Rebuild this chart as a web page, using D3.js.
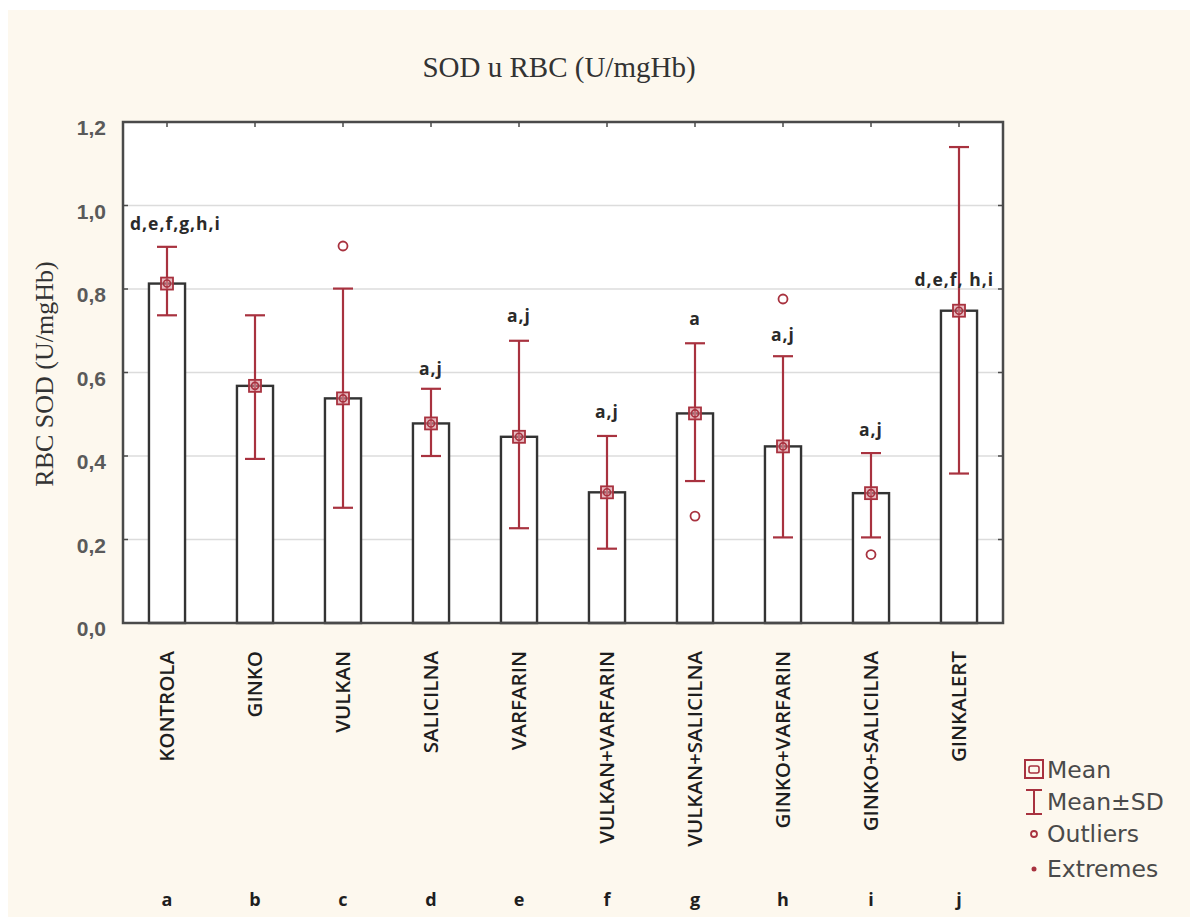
<!DOCTYPE html>
<html>
<head>
<meta charset="utf-8">
<script src="https://cdn.jsdelivr.net/npm/d3@7"></script>
<style>
  html, body { margin: 0; padding: 0; background: #ffffff; }
  svg { display: block; }
</style>
</head>
<body>
<svg id="chart" width="1190" height="917"></svg>
<script>
const categories = ["KONTROLA", "GINKO", "VULKAN", "SALICILNA", "VARFARIN",
  "VULKAN+VARFARIN", "VULKAN+SALICILNA", "GINKO+VARFARIN", "GINKO+SALICILNA", "GINKALERT"];
const groupLetters = ["a", "b", "c", "d", "e", "f", "g", "h", "i", "j"];
const means   = [0.813, 0.568, 0.538, 0.478, 0.446, 0.313, 0.502, 0.423, 0.311, 0.748];
const sdUpper = [0.901, 0.737, 0.801, 0.561, 0.676, 0.448, 0.670, 0.639, 0.407, 1.140];
const sdLower = [0.737, 0.393, 0.276, 0.400, 0.227, 0.178, 0.340, 0.205, 0.205, 0.358];
const outliers = [
  {cat: "VULKAN", value: 0.903},
  {cat: "VULKAN+SALICILNA", value: 0.256},
  {cat: "GINKO+VARFARIN", value: 0.776},
  {cat: "GINKO+SALICILNA", value: 0.164}
];
const annotations = ["d,e,f,g,h,i", "", "", "a,j", "a,j", "a,j", "a", "a,j", "a,j", "d,e,f, h,i"];
const annotationY = [0.954, null, null, 0.606, 0.733, 0.504, 0.725, 0.688, 0.459, 0.819];
const yTicks = [0, 0.2, 0.4, 0.6, 0.8, 1.0, 1.2];
const title = "SOD u RBC (U/mgHb)";
const yLabel = "RBC SOD (U/mgHb)";
const legendItems = ["Mean", "Mean\u00B1SD", "Outliers", "Extremes"];

const svg = d3.select("#chart");
const W = 1190, H = 917;
const red = "#a8323f";
const frame = "#4a4a4a";

// cream background
svg.append("rect").attr("x", 8).attr("y", 10).attr("width", W - 8).attr("height", H - 10)
  .attr("fill", "#fdf8ee");

const m = {left: 123, right: 1003, top: 122, bottom: 623};
const x = d3.scaleBand().domain(categories).range([m.left, m.right]).paddingInner(0).paddingOuter(0);
const y = d3.scaleLinear().domain([0, 1.2]).range([m.bottom, m.top]);
const barW = x.bandwidth() * 0.41;
const cx = c => x(c) + x.bandwidth() / 2;

// plot background
svg.append("rect").attr("x", m.left).attr("y", m.top)
  .attr("width", m.right - m.left).attr("height", m.bottom - m.top).attr("fill", "#ffffff");

// grid
svg.append("g").selectAll("line").data(yTicks.filter(v => v > 0 && v < 1.2)).join("line")
  .attr("x1", m.left).attr("x2", m.right)
  .attr("y1", d => y(d)).attr("y2", d => y(d))
  .attr("stroke", "#dcdcdc").attr("stroke-width", 1.5);

// y axis labels
const fmt = d => d3.format(".1f")(d).replace(".", ",");
const yAxis = d3.axisLeft(y).tickValues(yTicks).tickFormat(fmt).tickSize(0).tickPadding(17);
const ya = svg.append("g").attr("transform", `translate(${m.left},0)`).call(yAxis);
ya.select(".domain").remove();
ya.selectAll("text").attr("font-family", "Liberation Sans, Arial, sans-serif")
  .attr("font-size", 21).attr("font-weight", "bold").attr("fill", "#5a5a5a").attr("dy", "0.6em");

// inward ticks
const tickG = svg.append("g").attr("stroke", frame).attr("stroke-width", 1.5);
yTicks.forEach(v => {
  tickG.append("line").attr("x1", m.left).attr("x2", m.left + 5).attr("y1", y(v)).attr("y2", y(v));
  tickG.append("line").attr("x1", m.right - 5).attr("x2", m.right).attr("y1", y(v)).attr("y2", y(v));
});
categories.forEach(c => {
  tickG.append("line").attr("x1", cx(c)).attr("x2", cx(c)).attr("y1", m.top).attr("y2", m.top + 5);
  tickG.append("line").attr("x1", cx(c)).attr("x2", cx(c)).attr("y1", m.bottom).attr("y2", m.bottom - 5);
});

// bars
svg.append("g").selectAll("rect").data(categories).join("rect")
  .attr("x", c => cx(c) - barW / 2).attr("width", barW)
  .attr("y", (c, i) => y(means[i])).attr("height", (c, i) => y(0) - y(means[i]))
  .attr("fill", "#ffffff").attr("stroke", "#333").attr("stroke-width", 2.4);

// error bars
const capW = 20;
const eg = svg.append("g").attr("stroke", red).attr("stroke-width", 2.2).attr("fill", "none");
categories.forEach((c, i) => {
  const xc = cx(c);
  eg.append("line").attr("x1", xc).attr("x2", xc).attr("y1", y(sdUpper[i])).attr("y2", y(sdLower[i]));
  eg.append("line").attr("x1", xc - capW / 2).attr("x2", xc + capW / 2).attr("y1", y(sdUpper[i])).attr("y2", y(sdUpper[i]));
  eg.append("line").attr("x1", xc - capW / 2).attr("x2", xc + capW / 2).attr("y1", y(sdLower[i])).attr("y2", y(sdLower[i]));
});

// mean markers
const mg = svg.append("g");
categories.forEach((c, i) => {
  const xc = cx(c), yc = y(means[i]);
  mg.append("rect").attr("x", xc - 6).attr("y", yc - 6).attr("width", 12).attr("height", 12)
    .attr("fill", "#d8909a").attr("fill-opacity", 0.6).attr("stroke", red).attr("stroke-width", 1.8);
  mg.append("circle").attr("cx", xc).attr("cy", yc).attr("r", 3.5)
    .attr("fill", "none").attr("stroke", red).attr("stroke-width", 1.6);
});

// outliers
svg.append("g").selectAll("circle").data(outliers).join("circle")
  .attr("cx", d => cx(d.cat)).attr("cy", d => y(d.value)).attr("r", 4.5)
  .attr("fill", "none").attr("stroke", red).attr("stroke-width", 1.8);

// frame
svg.append("rect").attr("x", m.left).attr("y", m.top)
  .attr("width", m.right - m.left).attr("height", m.bottom - m.top)
  .attr("fill", "none").attr("stroke", frame).attr("stroke-width", 2.5);

// annotations (kept inside the frame)
const ann = svg.append("g").selectAll("text").data(categories.filter((c, i) => annotations[i])).join("text")
  .attr("x", c => cx(c)).attr("y", c => y(annotationY[categories.indexOf(c)]) + 5)
  .attr("text-anchor", "middle")
  .attr("font-family", "Open Sans, sans-serif").attr("font-weight", "bold").attr("font-size", 17.5)
  .attr("letter-spacing", 1)
  .attr("fill", "#2a2a2a")
  .text(c => annotations[categories.indexOf(c)]);
ann.each(function(c) {
  const bb = this.getBBox();
  let shift = 0;
  if (bb.x < m.left + 7) shift = m.left + 7 - bb.x;
  if (bb.x + bb.width > m.right - 9) shift = (m.right - 9) - (bb.x + bb.width);
  d3.select(this).attr("x", cx(c) + shift);
});

// category labels (rotated)
svg.append("g").selectAll("text").data(categories).join("text")
  .attr("transform", c => `translate(${cx(c) + 7},651) rotate(-90)`)
  .attr("text-anchor", "end")
  .attr("font-family", "Open Sans, sans-serif").attr("font-weight", 600).attr("font-size", 20.5)
  .attr("fill", "#1e1e1e")
  .text(c => c);

// group letters
svg.append("g").selectAll("text").data(categories).join("text")
  .attr("x", c => cx(c)).attr("y", 906).attr("text-anchor", "middle")
  .attr("font-family", "Open Sans, sans-serif").attr("font-weight", "bold").attr("font-size", 18)
  .attr("fill", "#1e1e1e")
  .text((c, i) => groupLetters[i]);

// title
svg.append("text").attr("x", 559).attr("y", 77).attr("text-anchor", "middle")
  .attr("font-family", "Liberation Serif, Times New Roman, serif").attr("font-size", 29)
  .attr("fill", "#333")
  .text(title);

// y label
svg.append("text").attr("transform", `translate(53,374) rotate(-90)`).attr("text-anchor", "middle")
  .attr("font-family", "Liberation Serif, Times New Roman, serif").attr("font-size", 26)
  .attr("fill", "#333")
  .text(yLabel);

// legend
const lg = svg.append("g").attr("transform", "translate(1034,0)");
const ly = [770, 802, 834, 869];
lg.append("rect").attr("x", -9).attr("y", ly[0] - 10).attr("width", 18).attr("height", 18)
  .attr("fill", "none").attr("stroke", red).attr("stroke-width", 2);
lg.append("rect").attr("x", -5).attr("y", ly[0] - 4).attr("width", 10).attr("height", 7)
  .attr("fill", "none").attr("stroke", red).attr("stroke-width", 1.6).attr("rx", 2);
lg.append("line").attr("x1", -8).attr("x2", 8).attr("y1", ly[1] - 12).attr("y2", ly[1] - 12).attr("stroke", red).attr("stroke-width", 2);
lg.append("line").attr("x1", 0).attr("x2", 0).attr("y1", ly[1] - 12).attr("y2", ly[1] + 12).attr("stroke", red).attr("stroke-width", 2);
lg.append("line").attr("x1", -8).attr("x2", 8).attr("y1", ly[1] + 12).attr("y2", ly[1] + 12).attr("stroke", red).attr("stroke-width", 2);
lg.append("circle").attr("cx", 0).attr("cy", ly[2]).attr("r", 3).attr("fill", "none").attr("stroke", red).attr("stroke-width", 1.8);
lg.append("circle").attr("cx", 0).attr("cy", ly[3]).attr("r", 2.5).attr("fill", red);
lg.selectAll("text.leg").data(legendItems).join("text").attr("class", "leg")
  .attr("x", 13).attr("y", (d, i) => ly[i] + 8)
  .attr("font-family", "DejaVu Sans, sans-serif").attr("font-size", 23.5)
  .attr("fill", "#4a4a4a")
  .text(d => d);
</script>
</body>
</html>
